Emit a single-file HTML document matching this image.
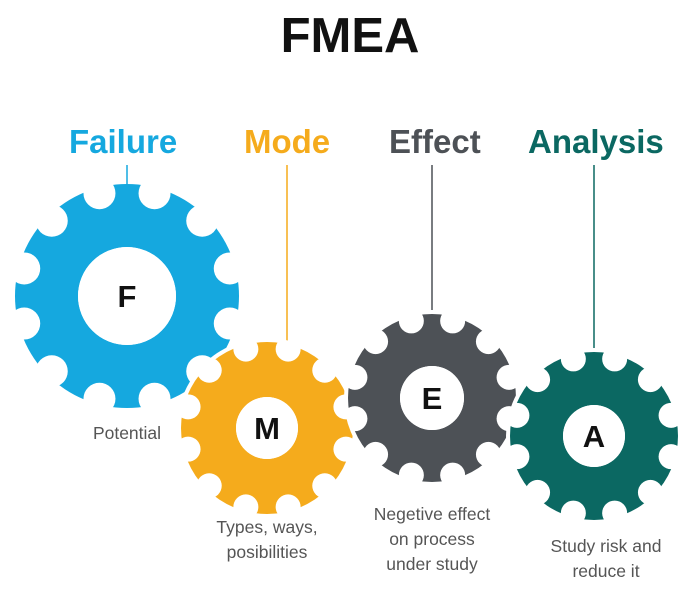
<!DOCTYPE html>
<html><head><meta charset="utf-8"><style>
html,body{margin:0;padding:0;background:#fff;}
svg{display:block;font-family:"Liberation Sans",Arial,sans-serif;}
</style></head><body>
<svg id="s" width="700" height="597" viewBox="0 0 700 597" xmlns="http://www.w3.org/2000/svg">
<text x="350" y="52" text-anchor="middle" font-size="49" font-weight="bold" fill="#111">FMEA</text>
<g font-size="33" font-weight="bold">
<text x="69" y="153" fill="#15a8df">Failure</text>
<text x="244" y="153" fill="#f5ab1c">Mode</text>
<text x="389" y="153" fill="#4d5156">Effect</text>
<text x="528" y="153" fill="#0b6862">Analysis</text>
</g>
<line x1="127" y1="165" x2="127" y2="190" stroke="#15a8df" stroke-width="1.5"/>
<line x1="287" y1="165" x2="287" y2="345" stroke="#f5ab1c" stroke-width="1.5"/>
<line x1="432" y1="165" x2="432" y2="318" stroke="#4d5156" stroke-width="1.5"/>
<line x1="594" y1="165" x2="594" y2="356" stroke="#0b6862" stroke-width="1.5"/>
<g id="gears"></g>
<g font-size="17.5" fill="#555" text-anchor="middle">
<text x="127" y="439">Potential</text>
<text x="267" y="533">Types, ways,</text>
<text x="267" y="558">posibilities</text>
<text x="432" y="520">Negetive effect</text>
<text x="432" y="545">on process</text>
<text x="432" y="570">under study</text>
<text x="606" y="552">Study risk and</text>
<text x="606" y="577">reduce it</text>
</g>
</svg>
<script>
var g=[[127,296,112,49,16,"#15a8df","F"],[267,428,86,31,12.5,"#f5ab1c","M"],[432,398,84,32,12.5,"#4d5156","E"],[594,436,84,31,12.5,"#0b6862","A"]];
var h="";
g.forEach(function(q,i){
var cx=q[0],cy=q[1],R=q[2],hr=q[3],nr=q[4],d=R*0.05;
var m='<mask id="m'+i+'"><circle cx="'+cx+'" cy="'+cy+'" r="'+R+'" fill="#fff"/>';
for(var k=0;k<12;k++){var a=(k*30+15)*Math.PI/180;
m+='<circle cx="'+(cx+Math.sin(a)*(R-d))+'" cy="'+(cy-Math.cos(a)*(R-d))+'" r="'+nr+'" fill="#000"/>';
m+='<circle cx="'+(cx+Math.sin(a)*(R+nr))+'" cy="'+(cy-Math.cos(a)*(R+nr))+'" r="'+nr+'" fill="#000"/>';}
m+='<circle cx="'+cx+'" cy="'+cy+'" r="'+hr+'" fill="#000"/></mask>';
h+='<defs>'+m+'</defs>';
if(i>0) h+='<circle cx="'+cx+'" cy="'+cy+'" r="'+(R+4)+'" fill="#fff"/>';
h+='<rect x="0" y="0" width="700" height="597" fill="'+q[5]+'" mask="url(#m'+i+')"/>';
h+='<circle cx="'+cx+'" cy="'+cy+'" r="'+hr+'" fill="#fff"/>';
h+='<text x="'+cx+'" y="'+(cy+11)+'" text-anchor="middle" font-size="31" font-weight="bold" fill="#111">'+q[6]+'</text>';
});
document.getElementById("gears").innerHTML=h;
</script>
</body></html>
